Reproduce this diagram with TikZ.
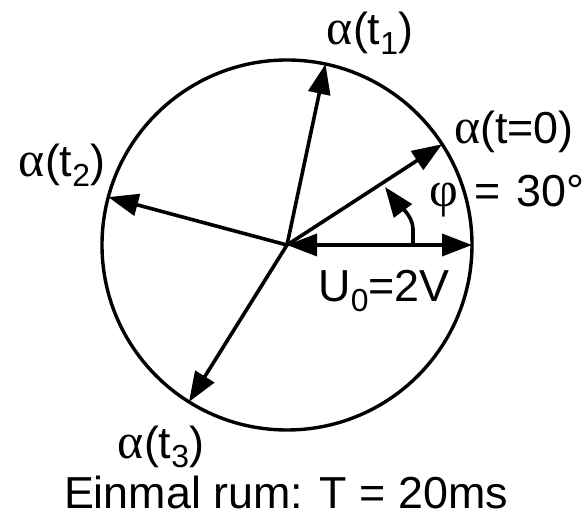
\documentclass[tikz,border=0pt]{standalone}
\usepackage{fontspec}
\setmainfont{Liberation Sans}
\newfontfamily\grkfont{Liberation Serif}
\usetikzlibrary{arrows.meta}
\newcommand{\lowidx}[1]{\raisebox{-0.22em}{\fontsize{32}{32}\selectfont #1}}
\newcommand{\alp}{{\grkfont\fontsize{50}{54}\selectfont α}}

\begin{document}
\begin{tikzpicture}[
        x=1bp, y=1bp,
        font=\fontsize{45}{54}\selectfont,
        vec/.style={-{Triangle[length=30bp, width=22bp]}, line width=3.6bp},
        dbl/.style={vec, {Triangle[length=30bp, width=22bp]}-{Triangle[length=30bp, width=22bp]}},
        lbl/.style={inner sep=0pt, anchor=base}
    ]
        \useasboundingbox (-287,-273) rectangle (299,245);
        \coordinate (O) at (0,0);
        \coordinate (p0) at (33:185);
        \coordinate (p1) at (78:185);
        \coordinate (p2) at (165:185);
        \coordinate (p3) at (238:185);
        \coordinate (u) at (185,0);
        \coordinate (phiA) at (126,0);
        \coordinate (phiB) at (126,16);
        \coordinate (phiC) at (98,58);

        \draw[line width=3.4bp] (O) circle (185);

        \draw[vec] (O) -- (p0);
        \draw[vec] (O) -- (p1);
        \draw[vec] (O) -- (p2);
        \draw[vec] (O) -- (p3);
        \draw[dbl] (O) -- (u);
        \draw[vec] (phiA) -- (phiB) .. controls (126,30) and (110,42) .. (phiC);

        \node[lbl] (l1) at (83,200) {\alp(t\lowidx{1})};
        \node[lbl] (l0) at (227,101) {\alp(t=0)};
        \node[lbl] (phi) at (220,38) {{\grkfont\fontsize{50}{54}\selectfont φ}\hspace{0.35em}=\hspace{0.35em}30°};
        \node[lbl] (l2) at (-225,68) {\alp(t\lowidx{2})};
        \node[lbl] (l3) at (-126,-213) {\alp(t\lowidx{3})};
        \node[lbl] (amp) at (97,-57) {U\lowidx{0}=2V};
        \node[lbl] (per) at (-1,-263) {Einmal rum: T = 20ms};
    \end{tikzpicture}
\end{document}
